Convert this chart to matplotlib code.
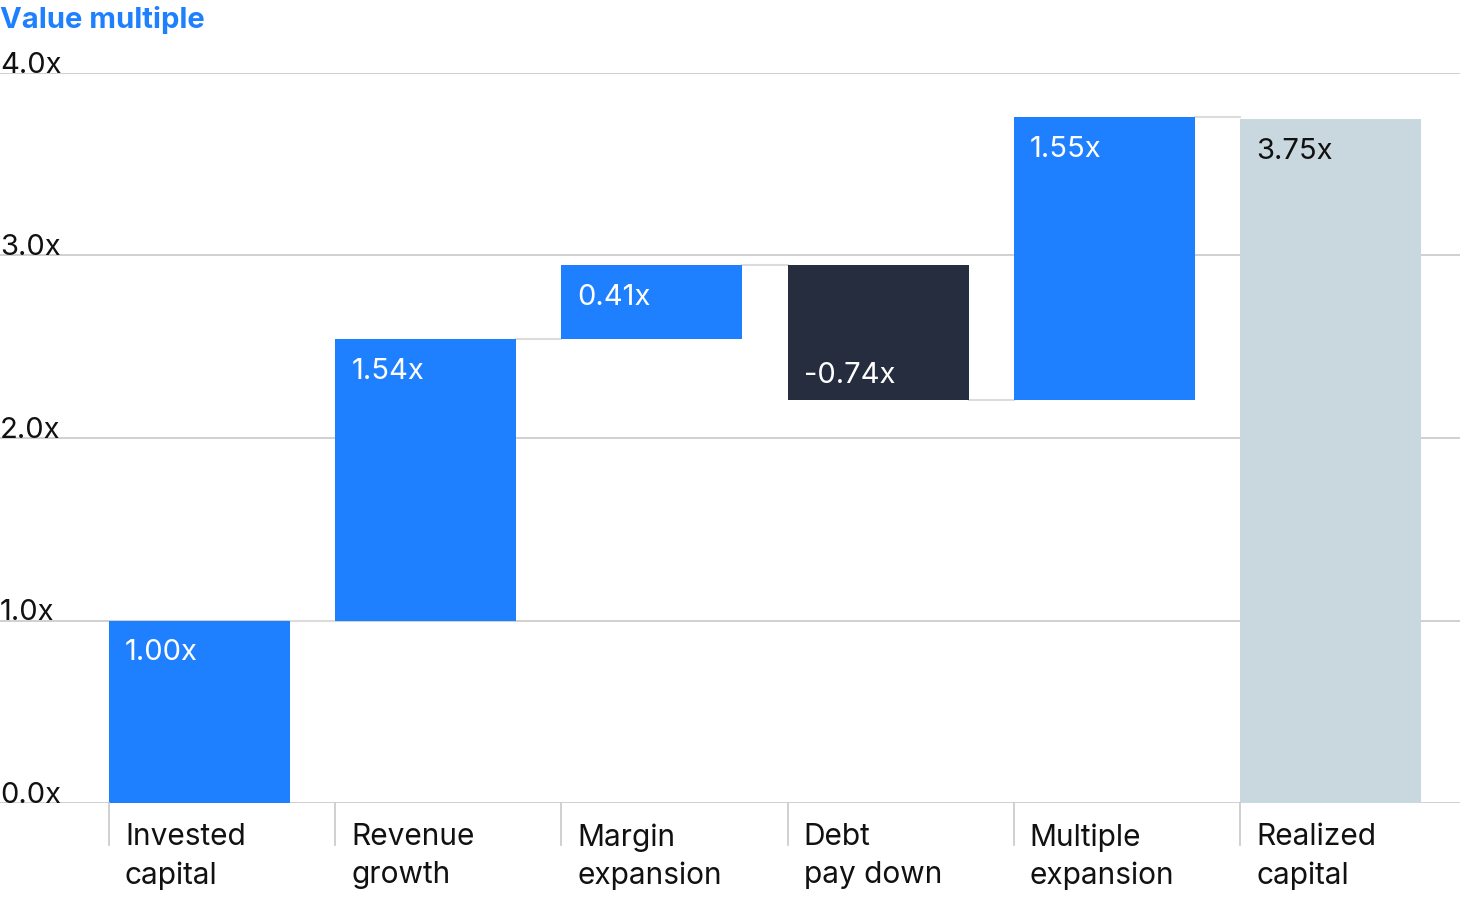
import matplotlib
matplotlib.use("Agg")
import matplotlib.pyplot as plt
import matplotlib.transforms as mtransforms

categories = ["Invested\ncapital", "Revenue\ngrowth", "Margin\nexpansion",
              "Debt\npay down", "Multiple\nexpansion", "Realized\ncapital"]
changes = [1.00, 1.54, 0.41, -0.74, 1.55, 3.75]
value_labels = ["1.00x", "1.54x", "0.41x", "-0.74x", "1.55x", "3.75x"]
is_total = [False, False, False, False, False, True]
y_ticks = [0.0, 1.0, 2.0, 3.0, 4.0]
y_tick_labels = ["0.0x", "1.0x", "2.0x", "3.0x", "4.0x"]
title = "Value multiple"

BLUE = "#1f80ff"
DARK = "#252d3e"
TOTAL = "#c9d8df"
GRID = "#c8c8c8"
CONN = "#dcdcdc"
FONT = ["Inter", "DejaVu Sans"]

W, H, DPI = 1460, 901, 100
fig = plt.figure(figsize=(W / DPI, H / DPI), dpi=DPI)
ax = fig.add_axes([0, 98 / H, 1, 730 / H])
slot_px = 226.2
x0 = -109 / slot_px
ax.set_xlim(x0, x0 + W / slot_px)
ax.set_ylim(0, 4)
for s in ax.spines.values():
    s.set_visible(False)
ax.set_xticks([])
ax.set_yticks([])

for t in y_ticks:
    ax.axhline(t, color=GRID, lw=1.2, zorder=1)

bar_w = 181 / slot_px
running = 0.0
bottoms, tops = [], []
for i, (c, tot) in enumerate(zip(changes, is_total)):
    if tot:
        b, h = 0.0, c
        color = TOTAL
    else:
        b, h = running, c
        color = BLUE if c >= 0 else DARK
        running += c
    ax.bar(i, h, bottom=b, width=bar_w, align="edge", color=color, zorder=2)
    bottoms.append(b)
    tops.append(b + h)

# connectors
level = 0.0
for i in range(len(changes) - 1):
    if not is_total[i]:
        level += changes[i]
    ax.plot([i + bar_w, i + 1], [level, level], color=CONN, lw=1.5, zorder=1.5)

# value labels
off = 16 / slot_px
for i, (c, lab, tot) in enumerate(zip(changes, value_labels, is_total)):
    txtcol = "#111111" if tot else "white"
    if c >= 0:
        ax.annotate(lab, (i + off, bottoms[i] + c), xytext=(0, -19),
                    textcoords="offset pixels", ha="left", va="top",
                    fontsize=21, color=txtcol, family=FONT, zorder=3)
    else:
        ax.annotate(lab, (i + off, bottoms[i] + c), xytext=(0, 17),
                    textcoords="offset pixels", ha="left", va="baseline",
                    fontsize=21, color=txtcol, family=FONT, zorder=3)

# y tick labels
trans = mtransforms.blended_transform_factory(ax.transAxes, ax.transData)
for t, lab in zip(y_ticks, y_tick_labels):
    ax.text(0.0, t, lab, transform=trans, ha="left", va="baseline",
            fontsize=21, color="#111111", family=FONT, zorder=3)

# category separators and labels
for i, cat in enumerate(categories):
    ax.plot([i, i], [0, -42 / 182.5], color=GRID, lw=1.2, clip_on=False)
    ax.annotate(cat, (i + off, 0), xytext=(0, -20), textcoords="offset pixels",
                ha="left", va="top", fontsize=21.5, color="#111111",
                family=FONT, linespacing=1.45, annotation_clip=False)

fig.text(0.0, 1 - 6 / H, title, ha="left", va="top", fontsize=21,
         fontweight="bold", color=BLUE, family=FONT)

fig.savefig("out.png", dpi=DPI)
